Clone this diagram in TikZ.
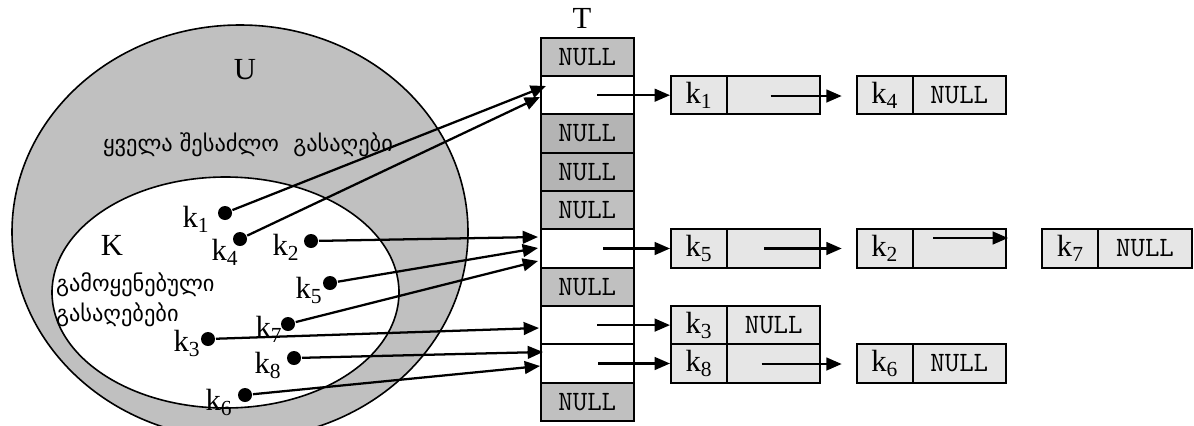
\documentclass[tikz,border=0pt]{standalone}
\usepackage{fontspec}
\setmainfont{Liberation Serif}
\newfontfamily\geofont{DejaVu Sans}
\usetikzlibrary{arrows.meta}

\definecolor{setgray}{RGB}{192,192,192}
\definecolor{nullgray}{RGB}{192,192,192}
\definecolor{nulldark}{RGB}{180,180,180}
\definecolor{listgray}{RGB}{230,230,230}

\tikzset{every picture/.style={line width=1.5pt}}
\tikzset{
  cell/.style={draw, rectangle, inner sep=0pt, minimum height=28.75pt},
  slot/.style={cell, minimum width=70pt, font=\fontsize{21}{24}\selectfont\ttfamily},
  keycell/.style={cell, minimum width=42pt, fill=listgray, font=\fontsize{23}{26}\selectfont},
  nextcell/.style={cell, minimum width=70pt, fill=listgray, font=\fontsize{21}{24}\selectfont\ttfamily},
  keydot/.style={circle, fill=black, inner sep=0pt, minimum size=10.5pt},
  klab/.style={inner sep=0pt, font=\fontsize{23}{26}\selectfont},
  geo/.style={inner sep=0pt, font=\fontsize{16.8}{19}\geofont},
  ptr/.style={-{Triangle[length=11.5pt,width=9.5pt]}, line width=1.7pt},
}

\begin{document}
\begin{tikzpicture}[x=0.75pt,y=0.75pt,yscale=-1,xscale=1]
  \useasboundingbox (0,0) rectangle (1194,425);
  \clip (0,0) rectangle (1194,425);

  %Shape: Ellipse U
  \draw [fill=setgray, line width=1.2pt] (240,232) ellipse [x radius=228, y radius=207];
  %Shape: Ellipse K
  \draw [fill=white, line width=1.2pt] (225.5,292.5) ellipse [x radius=173.5, y radius=115.5];

  % Text Node
  \node (U) at (245,70) [klab] {U};
  % Text Node
  \node (Utext) at (248,145) [geo] {ყველა შესაძლო\ \ გასაღები};
  % Text Node
  \node (K) at (112,245) [klab] {K};
  % Text Node
  \node (Ktext1) at (55,285) [geo, anchor=west] {გამოყენებული};
  % Text Node
  \node (Ktext2) at (55,315) [geo, anchor=west] {გასაღებები};
  % Text Node
  \node (T) at (582,18) [klab] {T};

  % keys in K
  \node (d1) at (225,213) [keydot] {};
  \node (l1) at (196,219) [klab] {k\textsubscript{1}};
  \node (d4) at (240,239) [keydot] {};
  \node (l4) at (225,252) [klab] {k\textsubscript{4}};
  \node (d2) at (311,241) [keydot] {};
  \node (l2) at (286,247) [klab] {k\textsubscript{2}};
  \node (d5) at (330,283) [keydot] {};
  \node (l5) at (309,290) [klab] {k\textsubscript{5}};
  \node (d7) at (288,324) [keydot] {};
  \node (l7) at (269,329) [klab] {k\textsubscript{7}};
  \node (d3) at (208,339) [keydot] {};
  \node (l3) at (187,343) [klab] {k\textsubscript{3}};
  \node (d8) at (294,358) [keydot] {};
  \node (l8) at (268,365) [klab] {k\textsubscript{8}};
  \node (d6) at (245,395) [keydot] {};
  \node (l6) at (219,402) [klab] {k\textsubscript{6}};

  % table T
  \foreach \i/\f/\t in {0/nullgray/NULL, 1/white/{}, 2/nulldark/NULL, 3/nulldark/NULL, 4/nullgray/NULL,
                        5/white/{}, 6/nullgray/NULL, 7/white/{}, 8/white/{}, 9/nullgray/NULL}
    \node (r\i) [slot, fill=\f] at (587.3,{56.9+38.33*\i}) {\t};

  % chains
  \node (k1) [keycell] at (699,95.2) {k\textsubscript{1}};
  \node (k1n) [nextcell] at (773.7,95.2) {};
  \node (k4) [keycell] at (884.7,95.2) {k\textsubscript{4}};
  \node (k4n) [nextcell] at (959.3,95.2) {NULL};
  \node (k5) [keycell] at (699,248.5) {k\textsubscript{5}};
  \node (k5n) [nextcell] at (773.7,248.5) {};
  \node (k2) [keycell] at (884.7,248.5) {k\textsubscript{2}};
  \node (k2n) [nextcell] at (959.3,248.5) {};
  \node (k7) [keycell] at (1070.3,248.5) {k\textsubscript{7}};
  \node (k7n) [nextcell] at (1145,248.5) {NULL};
  \node (k3) [keycell] at (699,325.1) {k\textsubscript{3}};
  \node (k3n) [nextcell] at (773.7,325.1) {NULL};
  \node (k8) [keycell] at (699,363.5) {k\textsubscript{8}};
  \node (k8n) [nextcell] at (773.7,363.5) {};
  \node (k6) [keycell] at (884.7,363.5) {k\textsubscript{6}};
  \node (k6n) [nextcell] at (959.3,363.5) {NULL};

  % pointer starts and ends
  \coordinate (p1) at (597,95.2);
  \coordinate (p5) at (603,248.5);
  \coordinate (p7) at (597,325.1);
  \coordinate (p8) at (598,363.5);
  \coordinate (n1a) at (770.7,96);
  \coordinate (n1b) at (841.7,96);
  \coordinate (n5a) at (764,248.5);
  \coordinate (n5b) at (841.7,248.5);
  \coordinate (n2a) at (933,238);
  \coordinate (n2b) at (1008,238);
  \coordinate (n8a) at (761.7,364);
  \coordinate (n8b) at (841.7,364);
  \coordinate (h1) at (546,86);
  \coordinate (h4) at (540,97);
  \coordinate (h2) at (538,237);
  \coordinate (h5) at (538,248);
  \coordinate (h7) at (538,261);
  \coordinate (h3) at (539,328);
  \coordinate (h8) at (543,352);
  \coordinate (h6) at (540,366);

  %Straight Lines
  \draw [ptr] (p1) -- (k1.west);
  \draw [ptr] (p5) -- (k5.west);
  \draw [ptr] (p7) -- (k3.west);
  \draw [ptr] (p8) -- (k8.west);
  \draw [ptr] (n1a) -- (n1b);
  \draw [ptr] (n5a) -- (n5b);
  \draw [ptr] (n2a) -- (n2b);
  \draw [ptr] (n8a) -- (n8b);
  \draw [ptr] (d1) -- (h1);
  \draw [ptr] (d4) -- (h4);
  \draw [ptr] (d2) -- (h2);
  \draw [ptr] (d5) -- (h5);
  \draw [ptr] (d7) -- (h7);
  \draw [ptr] (d3) -- (h3);
  \draw [ptr] (d8) -- (h8);
  \draw [ptr] (d6) -- (h6);
\end{tikzpicture}
\end{document}
